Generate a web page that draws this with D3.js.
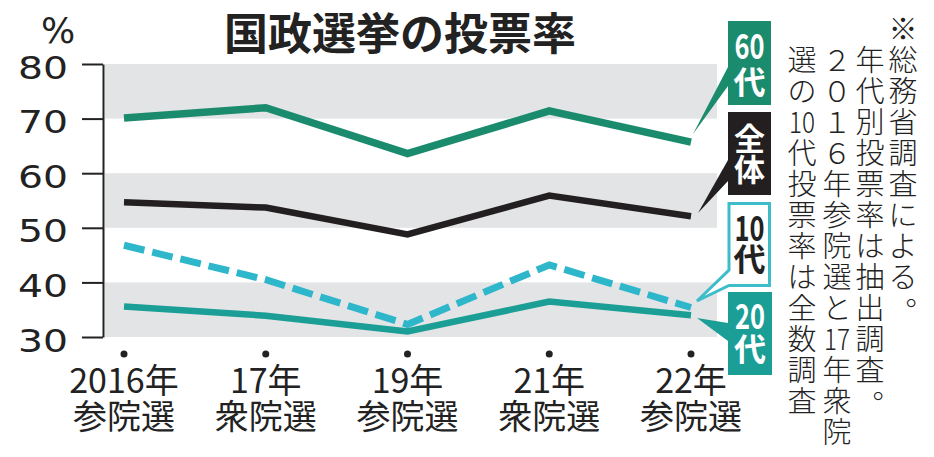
<!DOCTYPE html>
<html><head><meta charset="utf-8">
<script src="https://cdn.jsdelivr.net/npm/d3@7"></script>
<style>html,body{margin:0;padding:0;background:#fff;}svg{display:block;}</style>
</head><body>
<svg id="c" width="934" height="457"></svg>
<script>
const categories = ["2016年","17年","19年","21年","22年"];
const elections = ["参院選","衆院選","参院選","衆院選","参院選"];
const s60 = [70.1, 72.0, 63.6, 71.4, 65.7];
const sAll = [54.7, 53.7, 48.8, 55.9, 52.1];
const s10 = [46.8, 40.5, 32.3, 43.2, 35.4];
const s20 = [35.6, 33.9, 31.0, 36.5, 34.0];
const yTicks = [30, 40, 50, 60, 70, 80];
const seriesNames = ["60代", "全体", "10代", "20代"];
const titleText = "国政選挙の投票率";
const unitText = "%";
const noteCols = ["※総務省調査による。", "年代別投票率は抽出調査。", "２０１６年参院選と17年衆院", "選の10代投票率は全数調査"];

const svg = d3.select("#c");
const CJK = "'Noto Sans CJK JP','Noto Sans',sans-serif";
const x = d3.scalePoint().domain(categories).range([124, 691]);
const y = d3.scaleLinear().domain([30, 80]).range([337, 64]);

// background bands
const bands = [[30,40],[50,60],[70,80]];
svg.append("g").selectAll("rect").data(bands).join("rect")
  .attr("x", 105).attr("width", 612)
  .attr("y", d => y(d[1])).attr("height", d => y(d[0]) - y(d[1]))
  .attr("fill", "#e3e4e6");

// y axis
const ax = svg.append("g").attr("transform", "translate(103,0)")
  .call(d3.axisLeft(y).tickValues(yTicks).tickSize(21).tickSizeOuter(0).tickFormat(""));
ax.select(".domain").attr("stroke", "#222").attr("stroke-width", 2);
ax.selectAll(".tick line").attr("stroke", "#222").attr("stroke-width", 2);
svg.append("g").selectAll("text").data(yTicks).join("text")
  .attr("x", 68).attr("y", d => y(d) + 14.5)
  .attr("text-anchor", "end")
  .attr("font-family", "'DejaVu Sans',sans-serif").attr("font-size", 32)
  .attr("textLength", 50).attr("lengthAdjust", "spacingAndGlyphs")
  .attr("fill", "#222").text(d => d);
svg.append("text").attr("x", 41).attr("y", 43)
  .attr("font-family", "'DejaVu Sans',sans-serif").attr("font-size", 36)
  .attr("fill", "#222").text(unitText);

// title
svg.append("text").attr("x", 400).attr("y", 50).attr("text-anchor", "middle")
  .attr("font-family", CJK).attr("font-weight", 700).attr("font-size", 44)
  .attr("fill", "#222").text(titleText);

// x labels and dots
const xl = svg.append("g");
xl.selectAll("circle").data(categories).join("circle")
  .attr("cx", d => x(d)).attr("cy", 354).attr("r", 3.5).attr("fill", "#222");
xl.selectAll("text.l1").data(categories).join("text").attr("class", "l1")
  .attr("x", d => x(d)).attr("y", 393).attr("text-anchor", "middle")
  .attr("font-family", CJK).attr("font-size", 34).attr("fill", "#222").text(d => d);
xl.selectAll("text.l2").data(elections).join("text").attr("class", "l2")
  .attr("x", (d, i) => x(categories[i])).attr("y", 429).attr("text-anchor", "middle")
  .attr("font-family", CJK).attr("font-size", 34).attr("fill", "#222").text(d => d);

// lines
const line = d3.line().x((d, i) => x(categories[i])).y(d => y(d));
const styles = [
  {data: s60, color: "#1b8b6d", w: 7.5, dash: null},
  {data: sAll, color: "#231f20", w: 6.5, dash: null},
  {data: s10, color: "#2eb7cb", w: 7, dash: "21,8"},
  {data: s20, color: "#1b9e96", w: 6.5, dash: null}
];
svg.append("g").selectAll("path").data(styles).join("path")
  .attr("d", d => line(d.data)).attr("fill", "none")
  .attr("stroke", d => d.color).attr("stroke-width", d => d.w)
  .attr("stroke-dasharray", d => d.dash);

// legend callouts
const g = svg.append("g");
g.append("path").attr("d", "M728,67 L728,86 L693,134 Z").attr("fill", "#1b8b6d");
g.append("rect").attr("x", 728).attr("y", 21).attr("width", 43).attr("height", 84).attr("fill", "#1b8b6d");
g.append("path").attr("d", "M728,160 L728,181 L698,213 Z").attr("fill", "#231f20");
g.append("rect").attr("x", 728).attr("y", 112).attr("width", 43).attr("height", 83).attr("fill", "#231f20");
g.append("path").attr("d", "M729,203.5 H769.5 V285.5 H729 L697,301 L729,270 Z")
  .attr("fill", "#fff").attr("stroke", "#3dbcca").attr("stroke-width", 3).attr("stroke-linejoin", "miter");
g.append("path").attr("d", "M728,323 L728,341 L697,318 Z").attr("fill", "#1b9e96");
g.append("rect").attr("x", 728).attr("y", 292).attr("width", 44).attr("height", 83).attr("fill", "#1b9e96");

const boxes = [
  {num: "60", ch: "代", cx: 749.5, ny: 59, cy: 94, col: "#fff", name: seriesNames[0]},
  {num: null, ch: "全", ch2: "体", cx: 749.5, y1: 150, y2: 181, col: "#fff"},
  {num: "10", ch: "代", cx: 749.5, ny: 241, cy: 271, col: "#222"},
  {num: "20", ch: "代", cx: 750, ny: 329, cy: 361, col: "#fff"}
];
boxes.forEach(b => {
  if (b.num) {
    g.append("text").attr("x", b.cx).attr("y", b.ny).attr("text-anchor", "middle")
      .attr("font-family", CJK).attr("font-weight", 700).attr("font-size", 35)
      .attr("textLength", 30).attr("lengthAdjust", "spacingAndGlyphs")
      .attr("fill", b.col).text(b.num);
    g.append("text").attr("x", b.cx).attr("y", b.cy).attr("text-anchor", "middle")
      .attr("font-family", CJK).attr("font-weight", 700).attr("font-size", 32)
      .attr("fill", b.col).text(b.ch);
  } else {
    g.append("text").attr("x", b.cx).attr("y", b.y1).attr("text-anchor", "middle")
      .attr("font-family", CJK).attr("font-weight", 700).attr("font-size", 31)
      .attr("fill", b.col).text(b.ch);
    g.append("text").attr("x", b.cx).attr("y", b.y2).attr("text-anchor", "middle")
      .attr("font-family", CJK).attr("font-weight", 700).attr("font-size", 31)
      .attr("fill", b.col).text(b.ch2);
  }
});

// vertical note
const colX = [903, 870, 837, 802];
const pitch = 31, row0 = 27, fs = 29;
const note = svg.append("g").attr("font-family", CJK).attr("font-weight", 300).attr("fill", "#222");
noteCols.forEach((s, ci) => {
  const toks = Array.from(s.matchAll(/[0-9]+|./gu), m => m[0]);
  const start = ci === 0 ? 0 : 1;
  toks.forEach((t, k) => {
    const cy = row0 + (start + k) * pitch;
    const t0 = note.append("text").attr("text-anchor", "middle").attr("font-size", fs).text(t);
    if (t === "。") {
      t0.attr("x", colX[ci] + 17).attr("y", cy - 13).attr("dominant-baseline", "central");
    } else if (/^[0-9]+$/.test(t)) {
      t0.attr("x", colX[ci]).attr("y", cy).attr("dominant-baseline", "central")
        .attr("textLength", 26).attr("lengthAdjust", "spacingAndGlyphs");
    } else {
      t0.attr("x", colX[ci]).attr("y", cy).attr("dominant-baseline", "central");
    }
  });
});
</script>
</body></html>
